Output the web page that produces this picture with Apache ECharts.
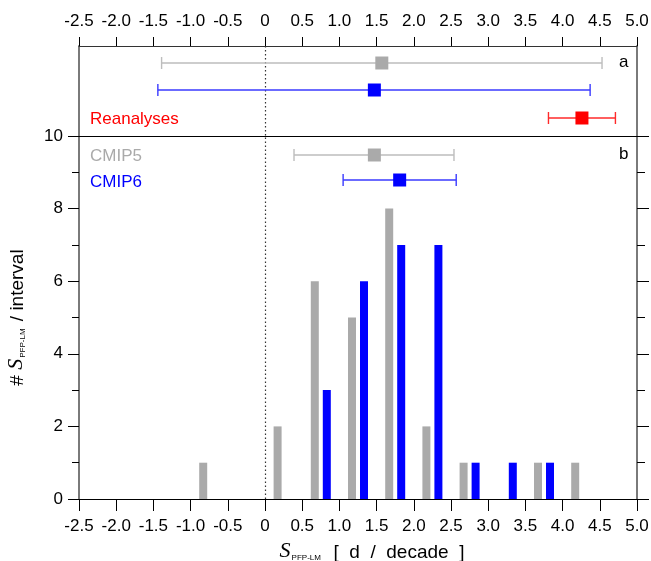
<!DOCTYPE html>
<html>
<head>
<meta charset="utf-8">
<script src="https://cdn.jsdelivr.net/npm/echarts@6/dist/echarts.min.js"></script>
<style>
  html, body { margin: 0; padding: 0; background: #fff; }
  #chart { width: 651px; height: 561px; }
</style>
</head>
<body>
<div id="chart"></div>
<script>
// ---- Data -------------------------------------------------------------
// Histogram bins (0.5 d/decade wide), given by their centres
const binCenters = [-2.25, -1.75, -1.25, -0.75, -0.25, 0.25, 0.75, 1.25, 1.75, 2.25, 2.75, 3.25, 3.75, 4.25, 4.75];
const countsCMIP5 = [0, 0, 0, 1, 0, 2, 6, 5, 8, 2, 1, 0, 1, 1, 0];
const countsCMIP6 = [0, 0, 0, 0, 0, 0, 3, 6, 7, 7, 1, 1, 1, 0, 0];

// Ranges as [minimum, median, maximum]
// panel a: full ensembles and reanalyses
const rangeAllCMIP5 = [-1.39, 1.57, 4.53];
const rangeAllCMIP6 = [-1.44, 1.47, 4.37];
const rangeReanalyses = [3.81, 4.26, 4.71];
// panel b: ensembles shown in the histogram
const rangeSubCMIP5 = [0.39, 1.47, 2.54];
const rangeSubCMIP6 = [1.05, 1.81, 2.57];

// Axis ticks
const xTickLabels = ['-2.5', '-2.0', '-1.5', '-1.0', '-0.5', '0', '0.5', '1.0', '1.5', '2.0', '2.5', '3.0', '3.5', '4.0', '4.5', '5.0'];
const yTickLabels = ['0', '2', '4', '6', '8', '10'];

// ---- Style ------------------------------------------------------------
const X_MIN = -2.5, X_MAX = 5.0, X_STEP = 0.5;
const Y_MAX = 10, Y_STEP = 2;
const GRAY = '#aaaaaa', BLUE = '#0000ff', RED = '#ff0000';
const FONT = 'Liberation Sans, Arial, Helvetica, sans-serif';
const SERIF = 'Liberation Serif, Times New Roman, serif';
const FRAME = '#7a7a7a';

const xFmt = v => xTickLabels[Math.round((v - X_MIN) / X_STEP)] ?? '';
const yFmt = v => yTickLabels[Math.round(v / Y_STEP)] ?? '';

// Horizontal range bar: whisker from min to max, square at the median
function rangeRenderer(fill, stroke) {
  return function (params, api) {
    const row = api.value(3);
    const lo = api.coord([api.value(0), row]);
    const mid = api.coord([api.value(1), row]);
    const hi = api.coord([api.value(2), row]);
    const y = Math.round(lo[1]);
    const cap = 6, sq = 13;
    const ls = { stroke: stroke, lineWidth: 1.4 };
    return {
      type: 'group',
      children: [
        { type: 'line', shape: { x1: lo[0], y1: y, x2: hi[0], y2: y }, style: ls },
        { type: 'line', shape: { x1: lo[0], y1: y - cap, x2: lo[0], y2: y + cap }, style: ls },
        { type: 'line', shape: { x1: hi[0], y1: y - cap, x2: hi[0], y2: y + cap }, style: ls },
        { type: 'rect', shape: { x: mid[0] - sq / 2, y: y - sq / 2, width: sq, height: sq }, style: { fill: fill } }
      ]
    };
  };
}

function rangeSeries(name, range, row, xi, yi, fill, stroke, extra) {
  return Object.assign({
    name: name,
    type: 'custom',
    xAxisIndex: xi,
    yAxisIndex: yi,
    renderItem: rangeRenderer(fill, stroke),
    encode: { x: [0, 1, 2], y: 3 },
    data: [[range[0], range[1], range[2], row]],
    silent: true,
    z: 5
  }, extra || {});
}

// dotted reference line at zero
const zeroLine = {
  silent: true,
  symbol: 'none',
  label: { show: false },
  lineStyle: { color: '#333', type: [1.5, 2.5], width: 1.2 },
  data: [{ xAxis: 0 }]
};

const tickLabelStyle = { fontFamily: FONT, fontSize: 17, color: '#000' };
const nameRich = {
  s: { fontFamily: SERIF, fontStyle: 'italic', fontSize: 22, color: '#000', verticalAlign: 'bottom' },
  sub: { fontFamily: FONT, fontSize: 8, color: '#000', verticalAlign: 'bottom', padding: [0, 2, 0, 1] },
  t: { fontFamily: FONT, fontSize: 19, color: '#000', verticalAlign: 'bottom' }
};

const chart = echarts.init(document.getElementById('chart'), null, { renderer: 'canvas' });

chart.setOption({
  animation: false,
  backgroundColor: '#fff',
  grid: [
    { left: 79, right: 14, top: 46, height: 90, outerBoundsMode: 'none' },   // panel a
    { left: 79, right: 14, top: 136, bottom: 62, outerBoundsMode: 'none' },  // panel b histogram
    { left: 79, right: 14, top: 136, height: 50, outerBoundsMode: 'none' }   // panel b range rows
  ],
  xAxis: [
    { // panel a, labelled top axis
      type: 'value', gridIndex: 0, position: 'top',
      min: X_MIN, max: X_MAX, interval: X_STEP,
      axisLine: { show: true, onZero: false, lineStyle: { color: '#333', width: 1 } },
      axisTick: { show: true, inside: false, length: 9, lineStyle: { color: '#000', width: 1 } },
      axisLabel: Object.assign({ margin: 16, formatter: xFmt }, tickLabelStyle),
      splitLine: { show: false }
    },
    { // panel b, labelled bottom axis
      type: 'value', gridIndex: 1, position: 'bottom',
      min: X_MIN, max: X_MAX, interval: X_STEP,
      axisLine: { show: true, onZero: false, lineStyle: { color: '#000', width: 1 } },
      axisTick: { show: true, inside: false, length: 12, lineStyle: { color: '#000', width: 1 } },
      axisLabel: Object.assign({ margin: 19, formatter: xFmt }, tickLabelStyle),
      splitLine: { show: false },
      name: '{s|S}{sub|PFP-LM}{t|  [  d  /  decade  ]}',
      nameLocation: 'middle',
      nameGap: 33,
      nameTextStyle: { padding: [0, 0, 0, 28], rich: nameRich }
    },
    { // panel b range rows (hidden)
      type: 'value', gridIndex: 2, show: false,
      min: X_MIN, max: X_MAX
    },
    { // separating line between the panels
      type: 'value', gridIndex: 1, position: 'top',
      min: X_MIN, max: X_MAX,
      axisLine: { show: true, onZero: false, lineStyle: { color: '#000', width: 1 } },
      axisTick: { show: false }, axisLabel: { show: false }, splitLine: { show: false }
    }
  ],
  yAxis: [
    { // panel a rows
      type: 'value', gridIndex: 0, position: 'left', inverse: true,
      min: -0.6, max: 2.64,
      axisLine: { show: true, onZero: false, lineStyle: { color: FRAME, width: 2 } },
      axisTick: { show: false }, axisLabel: { show: false }, splitLine: { show: false }
    },
    { // panel b counts, left
      type: 'value', gridIndex: 1, position: 'left',
      min: 0, max: Y_MAX, interval: Y_STEP,
      axisLine: { show: true, onZero: false, lineStyle: { color: FRAME, width: 2 } },
      axisTick: { show: true, inside: false, length: 11, lineStyle: { color: '#000', width: 1 } },
      minorTick: { show: true, splitNumber: 2, length: 7, lineStyle: { color: '#000', width: 1 } },
      axisLabel: Object.assign({ margin: 16, formatter: yFmt }, tickLabelStyle),
      splitLine: { show: false },
      name: '{t|# }{s|S}{sub|PFP-LM}{t| / interval}',
      nameLocation: 'middle',
      nameRotate: 90,
      nameGap: 52,
      nameTextStyle: { rich: nameRich }
    },
    { // panel a frame, right
      type: 'value', gridIndex: 0, position: 'right',
      min: 0, max: 1,
      axisLine: { show: true, onZero: false, lineStyle: { color: FRAME, width: 2 } },
      axisTick: { show: false }, axisLabel: { show: false }, splitLine: { show: false }
    },
    { // panel b counts, right (ticks only)
      type: 'value', gridIndex: 1, position: 'right',
      min: 0, max: Y_MAX, interval: Y_STEP,
      axisLine: { show: true, onZero: false, lineStyle: { color: FRAME, width: 2 } },
      axisTick: { show: true, inside: false, length: 12, lineStyle: { color: '#000', width: 1 } },
      minorTick: { show: true, splitNumber: 2, length: 8, lineStyle: { color: '#000', width: 1 } },
      axisLabel: { show: false }, splitLine: { show: false }
    },
    { // panel b range rows (hidden)
      type: 'value', gridIndex: 2, show: false, inverse: true,
      min: -0.76, max: 1.24
    }
  ],
  series: [
    {
      name: 'CMIP5',
      type: 'bar',
      xAxisIndex: 1, yAxisIndex: 1,
      data: binCenters.map((c, i) => [c, countsCMIP5[i]]),
      barWidth: 8, barGap: '50%',
      itemStyle: { color: GRAY },
      silent: true
    },
    {
      name: 'CMIP6',
      type: 'bar',
      xAxisIndex: 1, yAxisIndex: 1,
      data: binCenters.map((c, i) => [c, countsCMIP6[i]]),
      barWidth: 8, barGap: '50%',
      itemStyle: { color: BLUE },
      silent: true
    },
    {
      name: 'zero',
      type: 'line',
      xAxisIndex: 1, yAxisIndex: 1,
      data: [],
      silent: true,
      markLine: zeroLine
    },
    rangeSeries('CMIP5 all', rangeAllCMIP5, 0, 0, 0, GRAY, '#bdbdbd', { markLine: zeroLine }),
    rangeSeries('CMIP6 all', rangeAllCMIP6, 1, 0, 0, BLUE, '#3a3aff'),
    rangeSeries('Reanalyses', rangeReanalyses, 2, 0, 0, RED, '#ff2a2a'),
    rangeSeries('CMIP5 sub', rangeSubCMIP5, 0, 2, 4, GRAY, '#bdbdbd'),
    rangeSeries('CMIP6 sub', rangeSubCMIP6, 1, 2, 4, BLUE, '#3a3aff')
  ],
  graphic: [
    { type: 'text', left: 90, top: 111, style: { text: 'Reanalyses', fill: RED, font: '17px ' + FONT } },
    { type: 'text', left: 90, top: 148, style: { text: 'CMIP5', fill: GRAY, font: '17px ' + FONT } },
    { type: 'text', left: 90, top: 174, style: { text: 'CMIP6', fill: BLUE, font: '17px ' + FONT } },
    { type: 'text', left: 619, top: 54, style: { text: 'a', fill: '#000', font: '17px ' + FONT } },
    { type: 'text', left: 619, top: 146, style: { text: 'b', fill: '#000', font: '17px ' + FONT } }
  ]
});
</script>
</body>
</html>
